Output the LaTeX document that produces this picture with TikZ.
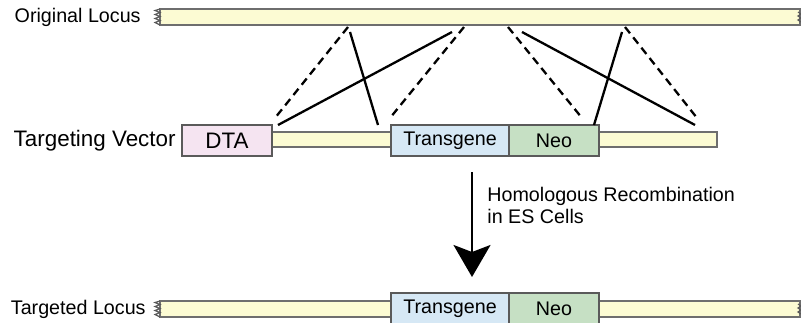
\documentclass[tikz,border=0pt]{standalone}
\usepackage{fontspec}
\setmainfont{Liberation Sans}
\usetikzlibrary{arrows.meta}
\definecolor{baryellow}{HTML}{FCFBD3}
\definecolor{bargray}{HTML}{6E6E6E}
\definecolor{boxgray}{HTML}{5A5A5A}
\definecolor{dtapink}{HTML}{F5E4F1}
\definecolor{tgblue}{HTML}{D6E8F5}
\definecolor{neogreen}{HTML}{C6E0C4}
\begin{document}
\begin{tikzpicture}[x=0.5pt, y=-0.5pt, font=\fontsize{9.85}{11}\selectfont,
    bar/.style={draw=bargray, fill=baryellow, line width=0.9pt},
    jag/.style={draw=boxgray, line width=0.6pt},
    gene/.style={draw=boxgray, line width=0.8pt, minimum height=15.5pt, inner sep=0pt},
    biglabel/.style={font=\fontsize{11.2}{13}\selectfont},
    homolog/.style={line width=1.15pt},
    homologdash/.style={line width=1.15pt, dash pattern=on 4pt off 2.6pt}]
    \useasboundingbox (0,0) rectangle (801,322);

    % Original locus
    \draw[bar] (160,9) rectangle (800,25);
    \draw[jag] (160,9) -- (155,10.5) -- (160,12.5) -- (155,14.5) -- (160,16.5) -- (155,18.5) -- (160,20.5) -- (155,22.5) -- (160,25);
    \draw[jag] (798,12) -- (801,14) -- (798,16) -- (801,18) -- (798,20) -- (801,22);
    \node[anchor=east, inner sep=0pt] (origlabel) at (141,17) {Original Locus};

    % Targeting vector
    \draw[bar] (272,132) rectangle (391,147);
    \draw[bar] (599,132) rectangle (717,147);
    \node[gene, biglabel, fill=dtapink, minimum width=45pt] (dta) at (227,140.5) {DTA};
    \node[gene, fill=tgblue, minimum width=59pt] (tg) at (450,140.5) {Transgene};
    \node[gene, fill=neogreen, minimum width=45pt] (neo) at (554,140.5) {Neo};
    \node[biglabel, anchor=east, inner sep=0pt] (veclabel) at (176,141) {Targeting Vector};

    % Homology arms
    \coordinate (o1) at (348,27);  \coordinate (v1) at (275,118);
    \coordinate (o2) at (350,32);  \coordinate (v2) at (378,125);
    \coordinate (o3) at (452,32);  \coordinate (v3) at (278,125);
    \coordinate (o4) at (464,27);  \coordinate (v4) at (390,118);
    \coordinate (o5) at (508,27);  \coordinate (v5) at (582,118);
    \coordinate (o6) at (522,32);  \coordinate (v6) at (695,125);
    \coordinate (o7) at (622,32);  \coordinate (v7) at (594,125);
    \coordinate (o8) at (625,27);  \coordinate (v8) at (697,118);
    \draw[homologdash] (o1) -- (v1);
    \draw[homolog] (o2) -- (v2);
    \draw[homolog] (o3) -- (v3);
    \draw[homologdash] (o4) -- (v4);
    \draw[homologdash] (o5) -- (v5);
    \draw[homolog] (o6) -- (v6);
    \draw[homolog] (o7) -- (v7);
    \draw[homologdash] (o8) -- (v8);

    % Recombination step
    \coordinate (arrtop) at (472,172);
    \coordinate (arrbot) at (472,277);
    \draw[line width=1.3pt, -{Stealth[width=18.5pt, length=16pt, inset=3.5pt]}] (arrtop) -- (arrbot);
    \node[anchor=north west, align=left, inner sep=0pt] (steplabel) at (487,187)
        {Homologous Recombination\\in ES Cells};

    % Targeted locus
    \draw[bar] (160,301) rectangle (800,317);
    \draw[jag] (160,301) -- (155,302.5) -- (160,304.5) -- (155,306.5) -- (160,308.5) -- (155,310.5) -- (160,312.5) -- (155,314.5) -- (160,317);
    \draw[jag] (798,304) -- (801,306) -- (798,308) -- (801,310) -- (798,312) -- (801,314);
    \node[gene, fill=tgblue, minimum width=59pt] (tg2) at (450,308.5) {Transgene};
    \node[gene, fill=neogreen, minimum width=45pt] (neo2) at (554,308.5) {Neo};
    \node[anchor=east, inner sep=0pt] (targlabel) at (146,309) {Targeted Locus};
\end{tikzpicture}
\end{document}
